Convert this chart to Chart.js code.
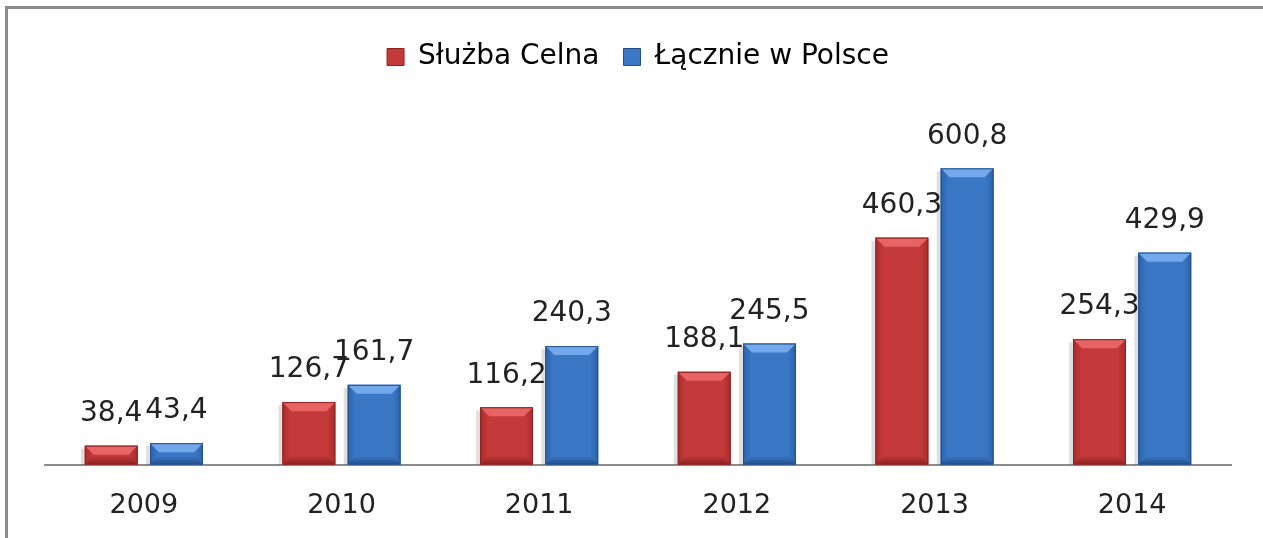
<!DOCTYPE html>
<html>
<head>
<meta charset="utf-8">
<script src="https://cdn.jsdelivr.net/npm/chart.js@4/dist/chart.umd.min.js"></script>
<style>
  html, body { margin: 0; padding: 0; background: #fff; overflow: hidden; }
  #wrap {
    position: absolute; left: 5px; top: 6px;
    width: 1255px; height: 529px; overflow: hidden;
    border-top: 3px solid #8c8c8c; border-left: 3px solid #8c8c8c;
  }
  canvas { display: block; }
</style>
</head>
<body>
<div id="wrap"><canvas id="chart" width="1255" height="557"></canvas></div>
<script>
const years = ["2009", "2010", "2011", "2012", "2013", "2014"];
const sluzbaCelna = [38.4, 126.7, 116.2, 188.1, 460.3, 254.3];
const lacznie = [43.4, 161.7, 240.3, 245.5, 600.8, 429.9];

const RED = { base: "#c43a3a", light: "#e86464", dark: "#8e2222", edge: "#a82c2c" };
const BLUE = { base: "#3a78c6", light: "#74a8ec", dark: "#244f8c", edge: "#2d61a8" };

function fmt(v) {
  return v.toFixed(1).replace(".", ",");
}

// bevelled bars + value labels, drawn on top of the library's bar elements
const bevelPlugin = {
  id: "bevel",
  afterDatasetsDraw(chart) {
    const ctx = chart.ctx;
    chart.data.datasets.forEach((ds, di) => {
      const pal = di === 0 ? RED : BLUE;
      chart.getDatasetMeta(di).data.forEach((bar, i) => {
        const l = bar.x - bar.width / 2, r = bar.x + bar.width / 2;
        const t = bar.y, b = bar.base;
        const h = b - t;
        const bv = Math.min(9, h / 2);
        ctx.save();
        // shadow
        ctx.fillStyle = "rgba(0,0,0,0.12)";
        ctx.fillRect(l - 4, t + 3, 4, h - 3);
        const g = ctx.createLinearGradient(l, 0, r, 0);
        g.addColorStop(0, pal.edge);
        g.addColorStop(0.15, pal.base);
        g.addColorStop(0.85, pal.base);
        g.addColorStop(1, pal.edge);
        ctx.fillStyle = g;
        ctx.fillRect(l, t, r - l, h);
        // top bevel
        ctx.fillStyle = pal.light;
        ctx.beginPath();
        ctx.moveTo(l, t); ctx.lineTo(r, t);
        ctx.lineTo(r - bv, t + bv); ctx.lineTo(l + bv, t + bv);
        ctx.closePath(); ctx.fill();
        // bottom bevel
        const gb = ctx.createLinearGradient(0, b - bv, 0, b);
        gb.addColorStop(0, pal.base);
        gb.addColorStop(1, pal.dark);
        ctx.fillStyle = gb;
        ctx.beginPath();
        ctx.moveTo(l, b); ctx.lineTo(r, b);
        ctx.lineTo(r - bv, b - bv); ctx.lineTo(l + bv, b - bv);
        ctx.closePath(); ctx.fill();
        ctx.strokeStyle = pal.dark;
        ctx.lineWidth = 1;
        ctx.strokeRect(l + 0.5, t + 0.5, r - l - 1, h - 1);
        // label
        ctx.fillStyle = "#222";
        ctx.font = "28px 'DejaVu Sans'";
        ctx.textAlign = "center";
        ctx.textBaseline = "middle";
        ctx.fillText(fmt(ds.data[i]), bar.x, t - 32);
        ctx.restore();
      });
    });
  }
};

new Chart(document.getElementById("chart"), {
  type: "bar",
  data: {
    labels: years,
    datasets: [
      { label: "Służba Celna", data: sluzbaCelna, backgroundColor: RED.base },
      { label: "Łącznie w Polsce", data: lacznie, backgroundColor: BLUE.base }
    ]
  },
  options: {
    responsive: false,
    animation: false,
    categoryPercentage: 0.66,
    barPercentage: 0.81,
    layout: { padding: { left: 37, right: 32, top: 10, bottom: 19 } },
    plugins: {
      tooltip: { enabled: false },
      legend: {
        position: "top",
        labels: {
          font: { family: "DejaVu Sans", size: 28 },
          color: "#222",
          boxWidth: 17,
          boxHeight: 17,
          padding: 24,
          generateLabels: () => [
            { text: "Służba Celna", fillStyle: RED.base, strokeStyle: RED.dark, lineWidth: 1, datasetIndex: 0 },
            { text: "Łącznie w Polsce", fillStyle: BLUE.base, strokeStyle: BLUE.dark, lineWidth: 1, datasetIndex: 1 }
          ]
        }
      }
    },
    scales: {
      x: {
        grid: { display: false, drawTicks: false },
        border: { display: true, color: "#8c8c8c", width: 2 },
        ticks: { font: { family: "DejaVu Sans", size: 27 }, color: "#222", padding: 25 }
      },
      y: {
        display: false,
        min: 0,
        max: 778
      }
    }
  },
  plugins: [bevelPlugin]
});
</script>
</body>
</html>
